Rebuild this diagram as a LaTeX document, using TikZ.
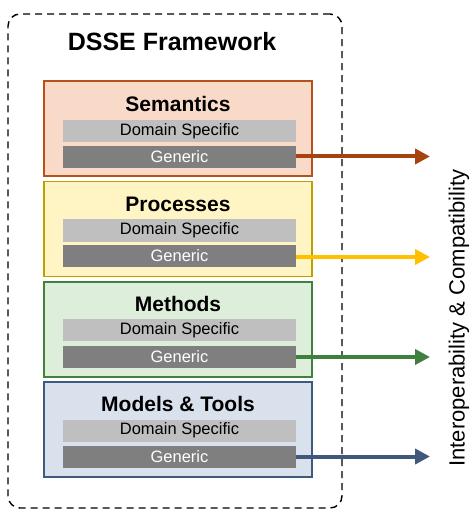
\documentclass[tikz,border=0pt]{standalone}
\usepackage{fontspec}
\setmainfont{Liberation Sans}
\usetikzlibrary{arrows.meta}
\definecolor{semF}{HTML}{F9DAC8}\definecolor{semD}{HTML}{B5521B}\definecolor{semA}{HTML}{A5440F}
\definecolor{proF}{HTML}{FFF4C4}\definecolor{proD}{HTML}{BDA000}\definecolor{proA}{HTML}{FFC000}
\definecolor{metF}{HTML}{DDEEDA}\definecolor{metD}{HTML}{437F3F}\definecolor{metA}{HTML}{3F7F3F}
\definecolor{modF}{HTML}{D9E1EC}\definecolor{modD}{HTML}{3F5A7F}\definecolor{modA}{HTML}{40587A}
\definecolor{dsbar}{HTML}{BFBFBF}\definecolor{genbar}{HTML}{7F7F7F}
\begin{document}
\begin{tikzpicture}[x=1pt,y=-1pt,
  layer/.style={draw=#1D, fill=#1F, line width=1.6pt, minimum width=268pt, minimum height=95pt, inner sep=0pt},
  ltitle/.style={font=\fontsize{21}{24}\selectfont\bfseries},
  dsbox/.style={fill=dsbar, minimum width=233pt, minimum height=22pt, inner sep=0pt, font=\fontsize{16.5}{18}\selectfont},
  genbox/.style={fill=genbar, text=white, minimum width=233pt, minimum height=22pt, inner sep=0pt, font=\fontsize{16.5}{18}\selectfont},
  conn/.style={draw=#1, line width=4pt, -{Triangle[length=15pt,width=15pt]}}]
\useasboundingbox (0,0) rectangle (472,510);
\node[draw, dashed, dash pattern=on 7pt off 5pt, line width=1.4pt, rounded corners=12pt, minimum width=334pt, minimum height=494pt, inner sep=0pt] (frame) at (175,261) {};
\node[font=\fontsize{25}{28}\selectfont\bfseries] (title) at (172,42) {DSSE Framework};
% Semantics
\node[layer=sem] (sem) at (178,128.5) {};
\node[ltitle] (semT) at (178,104) {Semantics};
\node[dsbox] (semDS) at (179.5,131) {Domain Specific};
\node[genbox] (semG) at (179.5,157) {Generic};
% Processes
\node[layer=pro] (pro) at (178,229) {};
\node[ltitle] (proT) at (178,204) {Processes};
\node[dsbox] (proDS) at (179.5,230.5) {Domain Specific};
\node[genbox] (proG) at (179.5,255.5) {Generic};
% Methods
\node[layer=met] (met) at (178,329.5) {};
\node[ltitle] (metT) at (178,304) {Methods};
\node[dsbox] (metDS) at (179.5,330) {Domain Specific};
\node[genbox] (metG) at (179.5,356.5) {Generic};
% Models & Tools
\node[layer=mod] (mod) at (178,429.5) {};
\node[ltitle] (modT) at (178,404) {Models \& Tools};
\node[dsbox] (modDS) at (179.5,430.5) {Domain Specific};
\node[genbox] (modG) at (179.5,456.5) {Generic};
% arrow ends
\coordinate (semE) at (430,156.5);
\coordinate (proE) at (430,257);
\coordinate (metE) at (430,357);
\coordinate (modE) at (430,456.5);
\draw[conn=semA] (semG.east |- semE) -- (semE);
\draw[conn=proA] (proG.east |- proE) -- (proE);
\draw[conn=metA] (metG.east |- metE) -- (metE);
\draw[conn=modA] (modG.east |- modE) -- (modE);
\node[rotate=90, font=\fontsize{22}{25}\selectfont] (interop) at (459,318) {Interoperability \& Compatibility};
\end{tikzpicture}
\end{document}
